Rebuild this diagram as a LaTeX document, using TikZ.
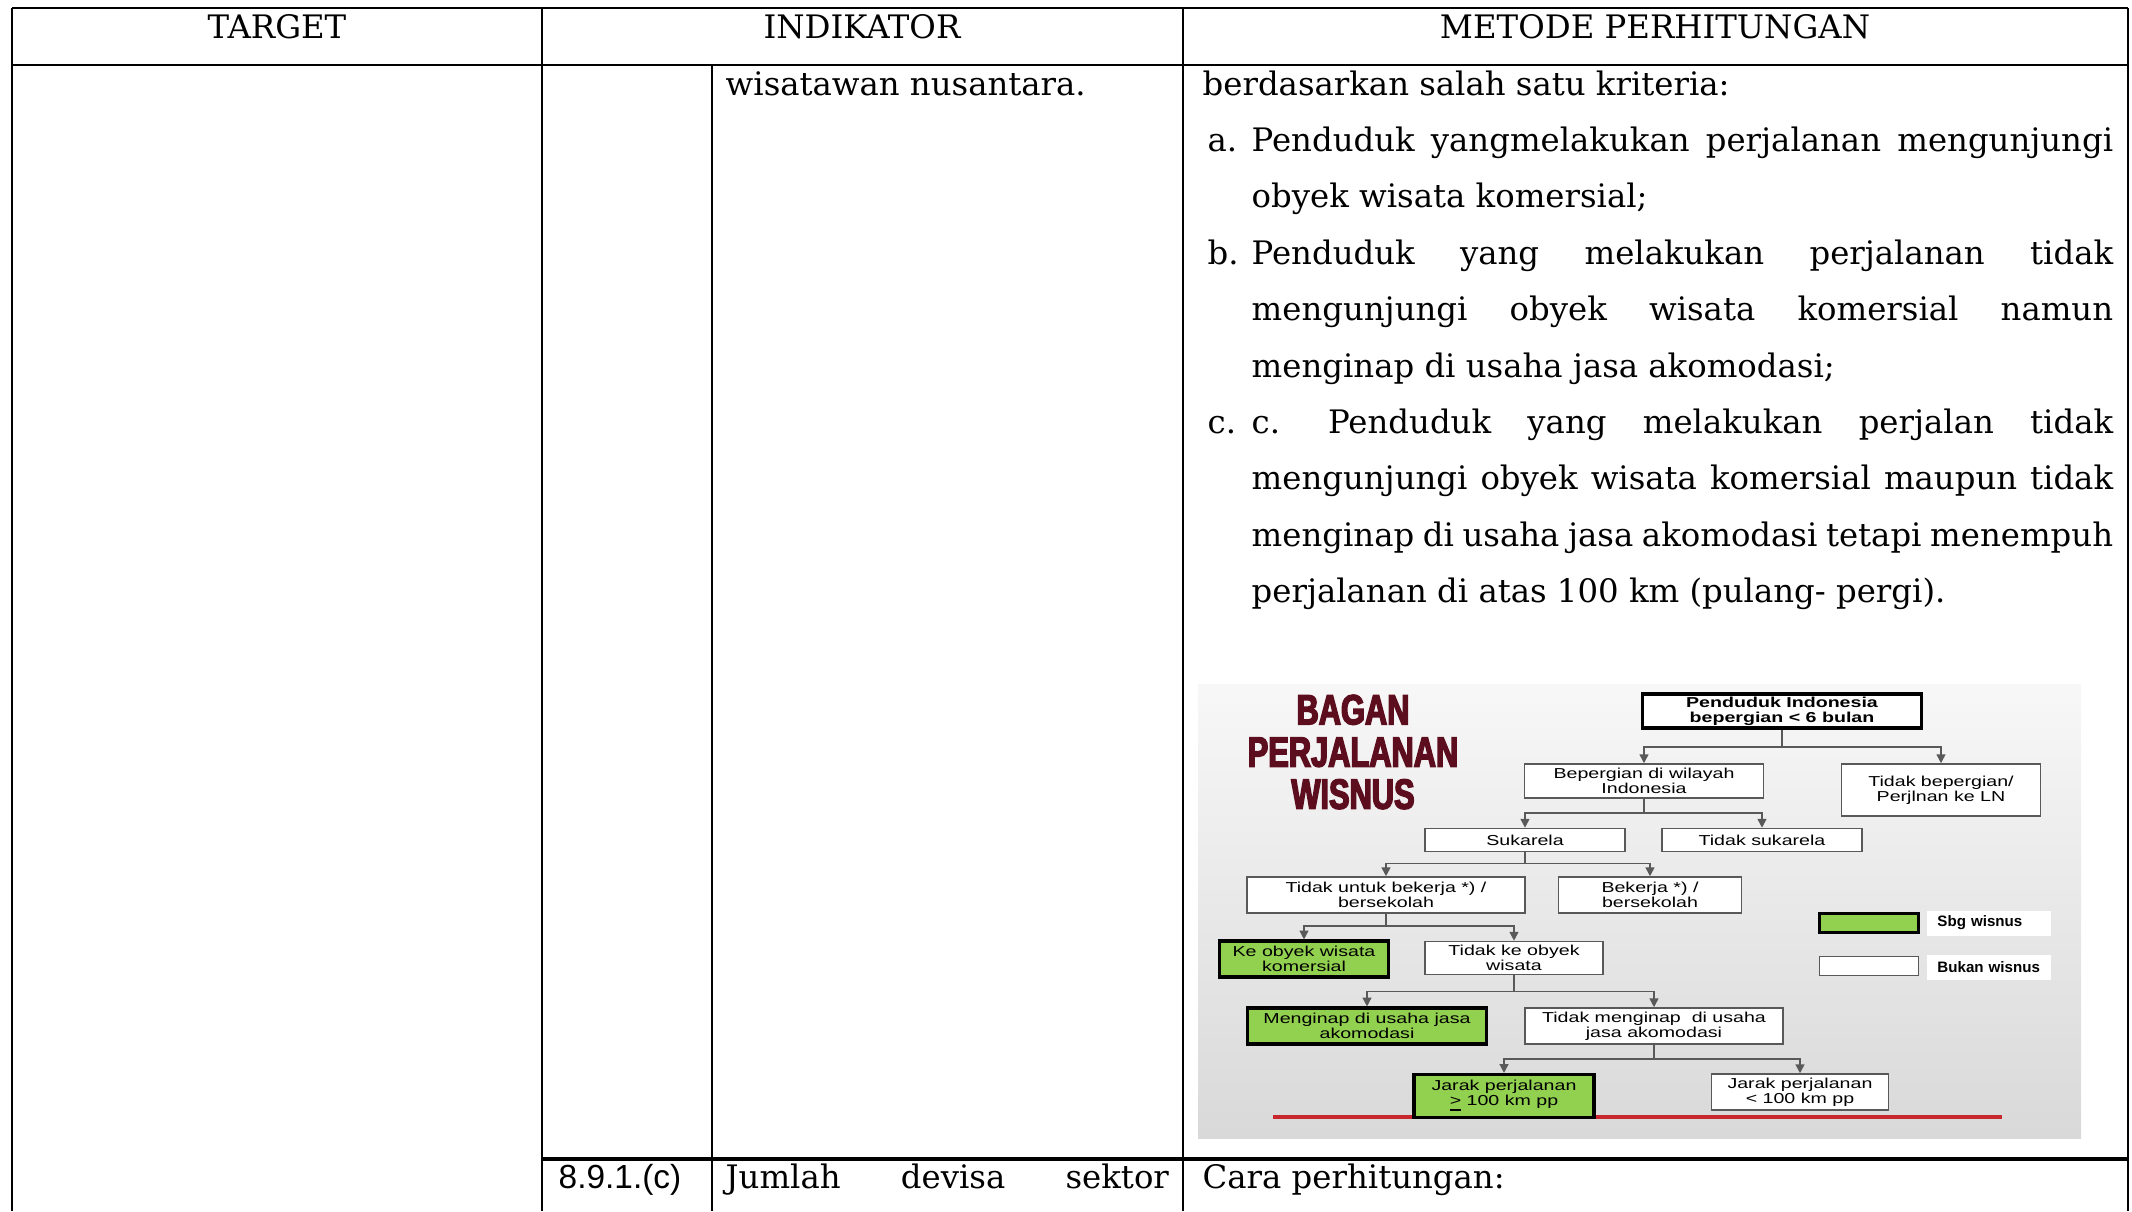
\documentclass[tikz,border=0pt]{standalone}
\usepackage{fontspec}
\setmainfont{DejaVu Serif}
\newfontfamily\angkafont{Liberation Sans}
\newfontfamily\baganfont[FakeStretch=1.36]{Liberation Sans}
\newfontfamily\legendafont{Liberation Sans}
\newfontfamily\judulfont[FakeStretch=0.73,BoldFeatures={FakeBold=3.5}]{Liberation Sans}
\usetikzlibrary{arrows.meta}

\definecolor{hijauwisnus}{RGB}{146,208,80}
\definecolor{merahtua}{RGB}{92,14,30}
\definecolor{garismerah}{RGB}{200,40,45}

% baris rata kiri-kanan di kolom metode
\newcommand{\rata}[1]{\makebox[8.61cm][s]{#1}}

\begin{document}
\begin{tikzpicture}[
			x=0.01cm, y=-0.01cm,
			font=\fontsize{9.2}{11}\selectfont,
			garis/.style={
					line width=0.7pt
				},
			teks/.style={
					inner sep=0pt
				},
			ukuran/.style 2 args={
					minimum width=#1*0.01cm,
					minimum height=#2*0.01cm
				},
			kotak/.style={
					draw=black!65,
					fill=white,
					line width=0.45pt,
					inner sep=0pt,
					align=center,
					font=\baganfont\fontsize{4.1}{4.2}\selectfont
				},
			wisnus/.style={
					kotak,
					fill=hijauwisnus,
					draw=black,
					line width=0.9pt
				},
			legenda/.style={
					fill=white,
					inner sep=0pt,
					inner xsep=0.1cm,
					text width=1.03cm,
					minimum height=0.25cm,
					align=left,
					font=\legendafont\bfseries\fontsize{4.3}{5}\selectfont
				},
			panah/.style={
			-{Triangle[length=2.5pt,width=2.5pt]},
			draw=black!65,
			line width=0.45pt
			}
			]

			\useasboundingbox (0,0) rectangle (2132,1211);

			% ================= garis tabel =================
			\draw[garis] (12,8) -- (2128,8);
			\draw[garis] (12,65) -- (2128,65);
			\draw[garis] (12,8) -- (12,1211);
			\draw[garis] (542,8) -- (542,1211);
			\draw[garis] (712,65) -- (712,1211);
			\draw[garis] (1183,8) -- (1183,1211);
			\draw[garis] (2128,8) -- (2128,1211);
			\draw[garis, line width=0.9pt] (542,1159) -- (2128,1159);

			% ================= judul kolom =================
			\node[teks, anchor=base] (hTarget) at (277,38.5) {TARGET};
			\node[teks, anchor=base] (hIndikator) at (862,38.5) {INDIKATOR};
			\node[teks, anchor=base] (hMetode) at (1655,38.5) {METODE PERHITUNGAN};

			% ================= isi baris =================
			\node[teks, anchor=base west] (indWisnus) at (725,95) {wisatawan nusantara.};
			\node[teks, anchor=base west] (metKriteria) at (1202,95) {berdasarkan salah satu kriteria:};

			\node[teks, anchor=base west] (labelA) at (1207,151.4) {a.};
			\node[teks, anchor=base west] (kritA1) at (1251,151.4) {\rata{Penduduk yangmelakukan perjalanan mengunjungi}};
			\node[teks, anchor=base west] (kritA2) at (1251,207.8) {obyek wisata komersial;};

			\node[teks, anchor=base west] (labelB) at (1207,264.2) {b.};
			\node[teks, anchor=base west] (kritB1) at (1251,264.2) {\rata{Penduduk yang melakukan perjalanan tidak}};
			\node[teks, anchor=base west] (kritB2) at (1251,320.6) {\rata{mengunjungi obyek wisata komersial namun}};
			\node[teks, anchor=base west] (kritB3) at (1251,377) {menginap di usaha jasa akomodasi;};

			\node[teks, anchor=base west] (labelC) at (1207,433.4) {c.};
			\node[teks, anchor=base west] (kritC1) at (1251,433.4) {\rata{c.\hspace{0.48cm}Penduduk yang melakukan perjalan tidak}};
			\node[teks, anchor=base west] (kritC2) at (1251,489.8) {\rata{mengunjungi obyek wisata komersial maupun tidak}};
			\node[teks, anchor=base west] (kritC3) at (1251,546.2) {\rata{menginap di usaha jasa akomodasi tetapi menempuh}};
			\node[teks, anchor=base west] (kritC4) at (1251,602.6) {perjalanan di atas 100 km (pulang- pergi).};

			% ================= bagan perjalanan wisnus =================
			\shade[top color=gray!6, bottom color=gray!30] (1198,684) rectangle (2081,1138);

			\node[teks, text=merahtua, align=center,
				font=\judulfont\bfseries\fontsize{12}{12}\selectfont] (judulBagan) at (1353,752) {BAGAN\\PERJALANAN\\WISNUS};

			% garis merah bawah bagan
			\draw[garismerah, line width=1pt] (1273,1117) -- (2002,1117);

			\node[kotak, draw=black, line width=1pt, ukuran={279}{34},
				font=\baganfont\bfseries\fontsize{4.1}{4.2}\selectfont] (pendudukIndo) at (1782,711) {Penduduk Indonesia\\bepergian < 6 bulan};
			\node[kotak, ukuran={239}{34}] (bepergianIndo) at (1644,781) {Bepergian di wilayah\\Indonesia};
			\node[kotak, ukuran={199}{52}] (tidakBepergian) at (1941,790) {Tidak bepergian/\\Perjlnan ke LN};
			\node[kotak, ukuran={200}{23}] (sukarela) at (1525,840) {Sukarela};
			\node[kotak, ukuran={200}{23}] (tidakSukarela) at (1762,840) {Tidak sukarela};
			\node[kotak, ukuran={278}{36}] (tidakBekerja) at (1386,895) {Tidak untuk bekerja *) /\\bersekolah};
			\node[kotak, ukuran={183}{36}] (bekerja) at (1650,895) {Bekerja *) /\\bersekolah};
			\node[wisnus, ukuran={169}{36}] (keObyek) at (1304,959) {Ke obyek wisata\\komersial};
			\node[kotak, ukuran={178}{33}] (tidakKeObyek) at (1514,958) {Tidak ke obyek\\wisata};
			\node[wisnus, ukuran={239}{36}] (menginap) at (1367,1026) {Menginap di usaha jasa\\akomodasi};
			\node[kotak, ukuran={258}{36}] (tidakMenginap) at (1654,1026) {Tidak menginap\ \ di usaha\\jasa akomodasi};
			\node[wisnus, ukuran={180}{43}] (jarakJauh) at (1504,1096) {Jarak perjalanan\\\underline{>} 100 km pp};
			\node[kotak, ukuran={177}{36}] (jarakDekat) at (1800,1092) {Jarak perjalanan\\< 100 km pp};

			% cabang bagan
			\draw[panah] (pendudukIndo.south) -- ++(0,17) -| (bepergianIndo.north);
			\draw[panah] (pendudukIndo.south) -- ++(0,17) -| (tidakBepergian.north);
			\draw[panah] (bepergianIndo.south) -- ++(0,14) -| (sukarela.north);
			\draw[panah] (bepergianIndo.south) -- ++(0,14) -| (tidakSukarela.north);
			\draw[panah] (sukarela.south) -- ++(0,11) -| (tidakBekerja.north);
			\draw[panah] (sukarela.south) -- ++(0,11) -| (bekerja.north);
			\draw[panah] (tidakBekerja.south) -- ++(0,12) -| (keObyek.north);
			\draw[panah] (tidakBekerja.south) -- ++(0,12) -| (tidakKeObyek.north);
			\draw[panah] (tidakKeObyek.south) -- ++(0,16) -| (menginap.north);
			\draw[panah] (tidakKeObyek.south) -- ++(0,16) -| (tidakMenginap.north);
			\draw[panah] (tidakMenginap.south) -- ++(0,14) -| (jarakJauh.north);
			\draw[panah] (tidakMenginap.south) -- ++(0,14) -| (jarakDekat.north);

			% keterangan warna
			\node[wisnus, ukuran={99}{19}] (legHijau) at (1869,923) {};
			\node[kotak, ukuran={99}{19}] (legPutih) at (1869,966) {};
			\node[legenda] (legSbg) at (1989,923) {Sbg wisnus};
			\node[legenda] (legBukan) at (1989,967) {Bukan wisnus};

			% ================= baris berikutnya =================
			\node[teks, anchor=base west, font=\angkafont\fontsize{9.5}{11}\selectfont] (kodeIndikator) at (558,1188) {8.9.1.(c)};
			\node[teks, anchor=base west] (indDevisa) at (725,1188) {\makebox[4.43cm][s]{Jumlah devisa sektor}};
			\node[teks, anchor=base west] (metCara) at (1202,1188) {Cara perhitungan:};

		\end{tikzpicture}
\end{document}
